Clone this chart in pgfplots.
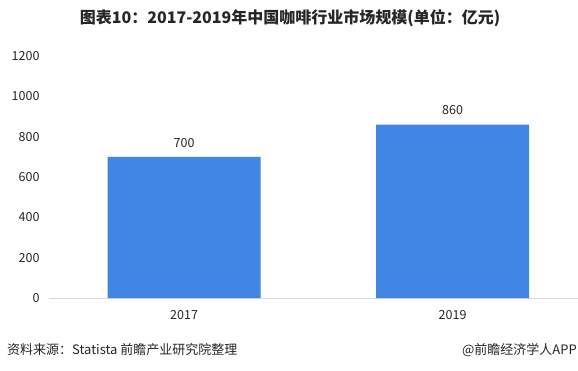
\documentclass[border=0pt]{standalone}
\usepackage{fontspec}
\setmainfont{Noto Sans CJK SC}
\usepackage{pgfplots}
\pgfplotsset{compat=1.18}
\definecolor{barblue}{RGB}{65,134,226}
\definecolor{axisgray}{RGB}{217,217,217}
\definecolor{txt}{RGB}{38,38,38}
\begin{document}
\begin{tikzpicture}[x=1pt,y=1pt]
\path[use as bounding box] (0,0) rectangle (578,370);
\begin{axis}[
  at={(49pt,72pt)}, anchor=south west,
  scale only axis, width=529pt, height=242pt,
  xmin=-0.503, xmax=1.467, ymin=0, ymax=1200,
  ybar, bar width=153pt,
  axis y line=none, axis x line*=bottom,
  axis line style={axisgray, line width=0.8pt},
  xtick={0,1}, xticklabels={2017,2019}, major tick length=0pt,
  /pgf/number format/assume math mode=true,
  /pgf/number format/1000 sep={},
  ticklabel style={font=\fontsize{12.5}{14}\selectfont, text=txt},
  xticklabel style={yshift=-9pt},
  nodes near coords,
  nodes near coords style={font=\fontsize{12.5}{14}\selectfont, text=txt, yshift=6pt},
  clip=false,
]
\addplot[fill=barblue, draw=none] coordinates {(0,700) (1,860)};
\end{axis}
\begin{axis}[
  at={(49pt,72pt)}, anchor=south west,
  scale only axis, width=529pt, height=242pt,
  xmin=-0.503, xmax=1.467, ymin=0, ymax=1200,
  axis x line=none, axis y line*=left, y axis line style={draw=none},
  ytick={0,200,...,1200}, major tick length=0pt,
  /pgf/number format/assume math mode=true,
  /pgf/number format/1000 sep={},
  yticklabel style={font=\fontsize{12.5}{14}\selectfont, text=txt, xshift=-6pt},
]
\addplot[draw=none] coordinates {(0,0)};
\end{axis}
\node[font=\bfseries\fontsize{16}{18}\selectfont, text=txt] at (290,352) {图表10：2017-2019年中国咖啡行业市场规模(单位：亿元)};
\node[anchor=west, font=\fontsize{13}{15}\selectfont, text=txt, inner sep=0pt] at (7,20) {资料来源：Statista 前瞻产业研究院整理};
\node[anchor=east, font=\fontsize{13}{15}\selectfont, text=txt, inner sep=0pt] at (577,20) {@前瞻经济学人APP};
\end{tikzpicture}
\end{document}
